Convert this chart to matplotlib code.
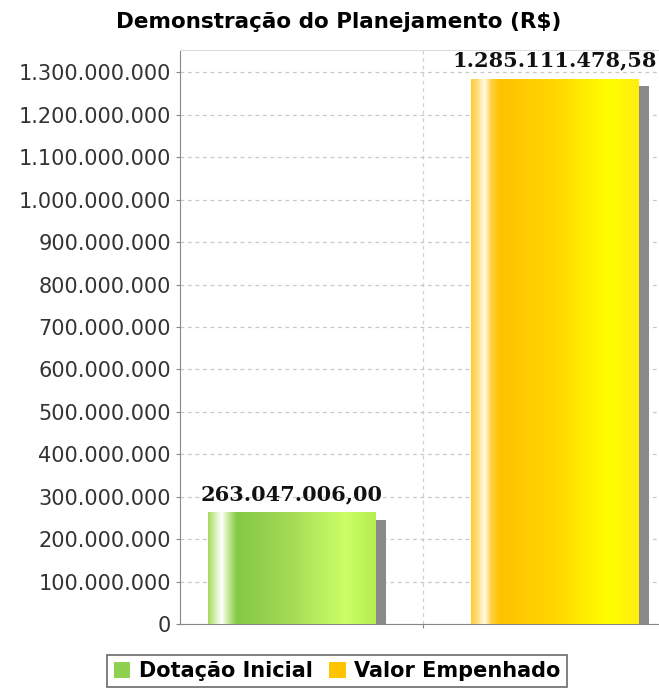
import numpy as np
import matplotlib.pyplot as plt
from matplotlib.colors import LinearSegmentedColormap
from matplotlib.patches import Rectangle, Patch
from matplotlib.ticker import FuncFormatter, MultipleLocator

# data
series = ['Dotação Inicial', 'Valor Empenhado']
values = [263047006.00, 1285111478.58]
value_labels = ['263.047.006,00', '1.285.111.478,58']
legend_colors = ['#8fd14f', '#ffc400']

title = 'Demonstração do Planejamento (R$)'

# cylinder-ish gradients like the JFreeChart renderer
grad_green = LinearSegmentedColormap.from_list('g', [
    (0.00, '#a6dc62'), (0.04, '#d4f0b0'), (0.08, '#ffffff'),
    (0.12, '#c6ea98'), (0.17, '#84c845'), (0.50, '#a4dc55'),
    (0.82, '#ccff66'), (1.00, '#b4ee50')])
grad_yellow = LinearSegmentedColormap.from_list('y', [
    (0.00, '#ffcc33'), (0.04, '#ffe080'), (0.08, '#fffbe8'),
    (0.12, '#ffd040'), (0.17, '#ffc200'), (0.50, '#ffd600'),
    (0.82, '#ffff00'), (1.00, '#ffee10')])
grads = [grad_green, grad_yellow]

fig = plt.figure(figsize=(6.59, 6.91), dpi=100)
ax = fig.add_axes([180 / 659, 1 - 624 / 691, 479 / 659, (624 - 50) / 691])

xs = np.arange(len(values))
width = 0.634
ymax = 1353000000

grad_img = np.linspace(0, 1, 256).reshape(1, -1)
for i, (x, v) in enumerate(zip(xs, values)):
    # shadow
    sh = Rectangle((x - width / 2 + 0.04, 0), width, v - 18000000,
                   facecolor='#8a8a8a', edgecolor='none', zorder=2)
    ax.add_patch(sh)
    rect = Rectangle((x - width / 2, 0), width, v, facecolor='none',
                     edgecolor='none', zorder=3)
    ax.add_patch(rect)
    im = ax.imshow(grad_img, cmap=grads[i], aspect='auto',
                   extent=(x - width / 2, x + width / 2, 0, v), zorder=3)
    im.set_clip_path(rect)
    ax.text(x, v + 20000000, value_labels[i], ha='center', va='bottom',
            fontsize=15, fontweight='bold', family='DejaVu Serif',
            color='#111111', zorder=5, clip_on=False)

ax.set_xlim(-0.423, 1.395)
ax.set_ylim(0, ymax)
ax.yaxis.set_major_locator(MultipleLocator(100000000))
ax.yaxis.set_major_formatter(FuncFormatter(lambda v, p: f'{int(v):,}'.replace(',', '.')))
ax.set_xticks([0.5])
ax.set_xticklabels([''])
ax.tick_params(axis='y', labelsize=15, length=3, color='#888888', labelcolor='#333333')
ax.tick_params(axis='x', length=3, color='#888888')
ax.grid(axis='y', color='#c8c8c8', linestyle=(0, (3, 3)), linewidth=0.9, zorder=0)
ax.grid(axis='x', color='#d0d0d0', linestyle=(0, (3, 3)), linewidth=0.9, zorder=0)
ax.set_axisbelow(True)
for s in ['left', 'bottom']:
    ax.spines[s].set_color('#888888')
ax.spines['top'].set_color('#dddddd')
ax.spines['right'].set_visible(False)

fig.text(339 / 659, 1 - 22 / 691, title, ha='center', va='center',
         fontsize=15.5, fontweight='bold')

handles = [Patch(facecolor=c, edgecolor='none') for c in legend_colors]
leg = fig.legend(handles, series, loc='center', bbox_to_anchor=(337 / 659, 1 - 671 / 691),
                 ncol=2, fancybox=False, frameon=True, handlelength=0.8, handleheight=0.8,
                 handletextpad=0.4, columnspacing=0.8, borderpad=0.3,
                 prop={'size': 15, 'weight': 'bold'})
leg.get_frame().set_edgecolor('#444444')
leg.get_frame().set_linewidth(1.2)

fig.savefig('out.png', dpi=100)
